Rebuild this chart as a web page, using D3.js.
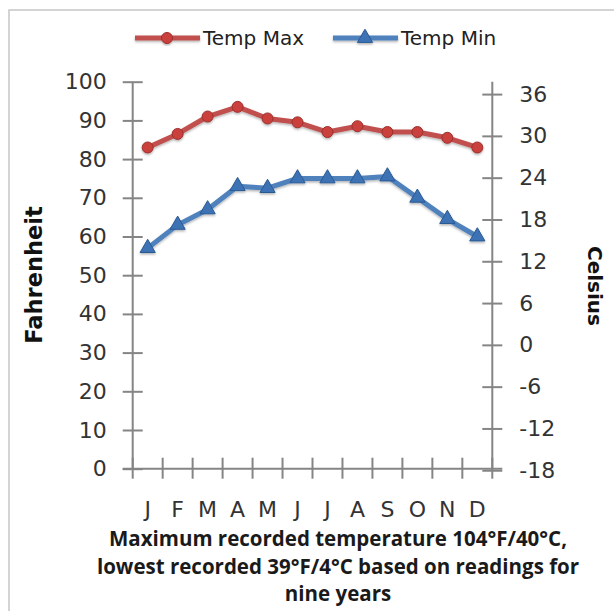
<!DOCTYPE html>
<html>
<head>
<meta charset="utf-8">
<script src="https://cdn.jsdelivr.net/npm/d3@7"></script>
<style>
  html, body { margin: 0; padding: 0; background: #fff; }
  svg { display: block; }
</style>
</head>
<body>
<script>
// Monthly average temperatures (°F)
const months = ["J", "F", "M", "A", "M", "J", "J", "A", "S", "O", "N", "D"];
const tempMax = [83, 86.5, 91, 93.5, 90.5, 89.5, 87, 88.5, 87, 87, 85.5, 83];
const tempMin = [57, 63, 67, 73, 72.5, 75, 75, 75, 75.5, 70, 64.5, 60];
const fTicks = [0, 10, 20, 30, 40, 50, 60, 70, 80, 90, 100];
const cTicks = [-18, -12, -6, 0, 6, 12, 18, 24, 30, 36];
const seriesNames = ["Temp Max", "Temp Min"];
const captionLines = [
  "Maximum recorded temperature 104°F/40°C,",
  "lowest recorded 39°F/4°C based on readings for",
  "nine years"
];

const W = 614, H = 611;
const plot = { left: 132.7, right: 492.3, top: 81.7, bottom: 468.7 };
const axisColor = "#858585";
const textColor = "#333";
const redColor = "#C0504D", blueColor = "#4F81BD";
const tickFont = "'DejaVu Sans', Verdana, sans-serif";

const svg = d3.select("body").append("svg").attr("width", W).attr("height", H);

// outer chart frame
svg.append("rect").attr("x", 9).attr("y", 10).attr("width", W + 20).attr("height", H + 20)
  .attr("fill", "#fff").attr("stroke", "#c6c6c6").attr("stroke-width", 1.5);

const x = d3.scaleBand().domain(d3.range(months.length)).range([plot.left, plot.right]).padding(0);
const yF = d3.scaleLinear().domain([0, 100]).range([plot.bottom, plot.top]);
const toC = f => (f - 32) * 5 / 9;
const yC = d3.scaleLinear().domain([toC(0), toC(100)]).range([plot.bottom, plot.top]);

const defs = svg.append("defs");
const shadow = defs.append("filter").attr("id", "shadow").attr("x", "-10%").attr("y", "-10%").attr("width", "120%").attr("height", "130%");
shadow.append("feDropShadow").attr("dx", 0).attr("dy", 1.5).attr("stdDeviation", 1.2).attr("flood-color", "#000").attr("flood-opacity", 0.3);

// Left (Fahrenheit) axis with crossing ticks
const leftAxis = d3.axisLeft(yF).tickValues(fTicks).tickSizeInner(10).tickSizeOuter(0).tickPadding(16)
  .tickFormat(d => String(d));
const gL = svg.append("g").attr("transform", `translate(${plot.left},0)`).call(leftAxis);
gL.selectAll(".tick line").attr("x2", 10).attr("x1", -10);

// Right (Celsius) axis
const rightAxis = d3.axisRight(yC).tickValues(cTicks).tickSizeInner(10).tickSizeOuter(0).tickPadding(17)
  .tickFormat(d => String(d));
const gR = svg.append("g").attr("transform", `translate(${plot.right},0)`).call(rightAxis);
gR.selectAll(".tick line").attr("x1", -10).attr("x2", 10);
gR.select(".domain").attr("d", `M0,${plot.top}V${plot.bottom + 2}`);

// Bottom category axis: ticks on band boundaries
const gB = svg.append("g").attr("transform", `translate(0,${plot.bottom})`);
const bounds = d3.range(months.length + 1).map(i => i < months.length ? x(i) : plot.right);
gB.selectAll("line.tk").data(bounds).join("line").attr("class", "tk")
  .attr("x1", d => d).attr("x2", d => d).attr("y1", -11).attr("y2", 10);
gB.append("line").attr("class", "base").attr("x1", plot.left - 10).attr("x2", plot.right + 10).attr("y1", 0).attr("y2", 0);
gB.selectAll("text").data(months).join("text")
  .attr("x", (d, i) => x(i) + x.bandwidth() / 2).attr("y", 48)
  .attr("text-anchor", "middle").text(d => d);

[gL, gR].forEach(g => g.select(".domain").attr("stroke", axisColor).attr("stroke-width", 2));
gL.select(".domain").attr("d", `M0,${plot.top}V${plot.bottom}`);
svg.selectAll(".tick line, line.tk, line.base").attr("stroke", axisColor).attr("stroke-width", 2);
svg.selectAll("g text").attr("fill", textColor)
  .style("font-family", tickFont).style("font-size", "22px");
gB.selectAll("text").style("font-size", "22px");

// Series lines and markers
const line = d3.line().x((d, i) => x(i) + x.bandwidth() / 2);
const triangle = d3.symbol().type(d3.symbolTriangle).size(100);

const gMax = svg.append("g").attr("filter", "url(#shadow)");
gMax.append("path").datum(tempMax).attr("fill", "none").attr("stroke", redColor)
  .attr("stroke-width", 5).attr("stroke-linejoin", "round")
  .attr("d", line.y(d => yF(d)));
gMax.selectAll("circle").data(tempMax).join("circle")
  .attr("cx", (d, i) => x(i) + x.bandwidth() / 2).attr("cy", d => yF(d)).attr("r", 5.5)
  .attr("fill", "#c9403c").attr("stroke", "#9c2f2c").attr("stroke-width", 1);

const gMin = svg.append("g").attr("filter", "url(#shadow)");
gMin.append("path").datum(tempMin).attr("fill", "none").attr("stroke", blueColor)
  .attr("stroke-width", 5).attr("stroke-linejoin", "round")
  .attr("d", line.y(d => yF(d)));
gMin.selectAll("path.mk").data(tempMin).join("path").attr("class", "mk")
  .attr("transform", (d, i) => `translate(${x(i) + x.bandwidth() / 2},${yF(d)})`)
  .attr("d", triangle).attr("fill", "#3d72b4").attr("stroke", "#2a5a94").attr("stroke-width", 1);

// Legend
const legend = svg.append("g").attr("transform", "translate(0,38)");
const legItems = [
  { name: seriesNames[0], color: redColor, x0: 135, type: "circle" },
  { name: seriesNames[1], color: blueColor, x0: 333, type: "triangle" }
];
legItems.forEach(it => {
  const g = legend.append("g").attr("filter", "url(#shadow)");
  g.append("line").attr("x1", it.x0).attr("x2", it.x0 + 65).attr("y1", 0).attr("y2", 0)
    .attr("stroke", it.color).attr("stroke-width", 5);
  if (it.type === "circle") {
    g.append("circle").attr("cx", it.x0 + 32).attr("cy", 0).attr("r", 5.5)
      .attr("fill", "#c9403c").attr("stroke", "#9c2f2c");
  } else {
    g.append("path").attr("transform", `translate(${it.x0 + 32},0)`).attr("d", triangle)
      .attr("fill", "#3d72b4").attr("stroke", "#2a5a94");
  }
  legend.append("text").attr("x", it.x0 + 68).attr("y", 7).text(it.name)
    .attr("fill", "#222").style("font-family", tickFont).style("font-size", "20px");
});

// Axis titles
svg.append("text").attr("transform", "translate(42,275) rotate(-90)")
  .attr("text-anchor", "middle").text("Fahrenheit")
  .attr("fill", "#111").style("font-family", "'DejaVu Sans', sans-serif").style("font-weight", "bold").style("font-size", "22.5px");
svg.append("text").attr("transform", "translate(588,286) rotate(90)")
  .attr("text-anchor", "middle").text("Celsius")
  .attr("fill", "#111").style("font-family", "'DejaVu Sans', sans-serif").style("font-weight", "bold").style("font-size", "20px");

// Caption under the chart
svg.append("g").selectAll("text").data(captionLines).join("text")
  .attr("x", 338).attr("y", (d, i) => 546 + i * 27.5)
  .attr("text-anchor", "middle").text(d => d)
  .attr("fill", "#1a1a1a").style("font-family", "'Open Sans', sans-serif").style("font-weight", "bold").style("font-size", "20.5px");
</script>
</body>
</html>
